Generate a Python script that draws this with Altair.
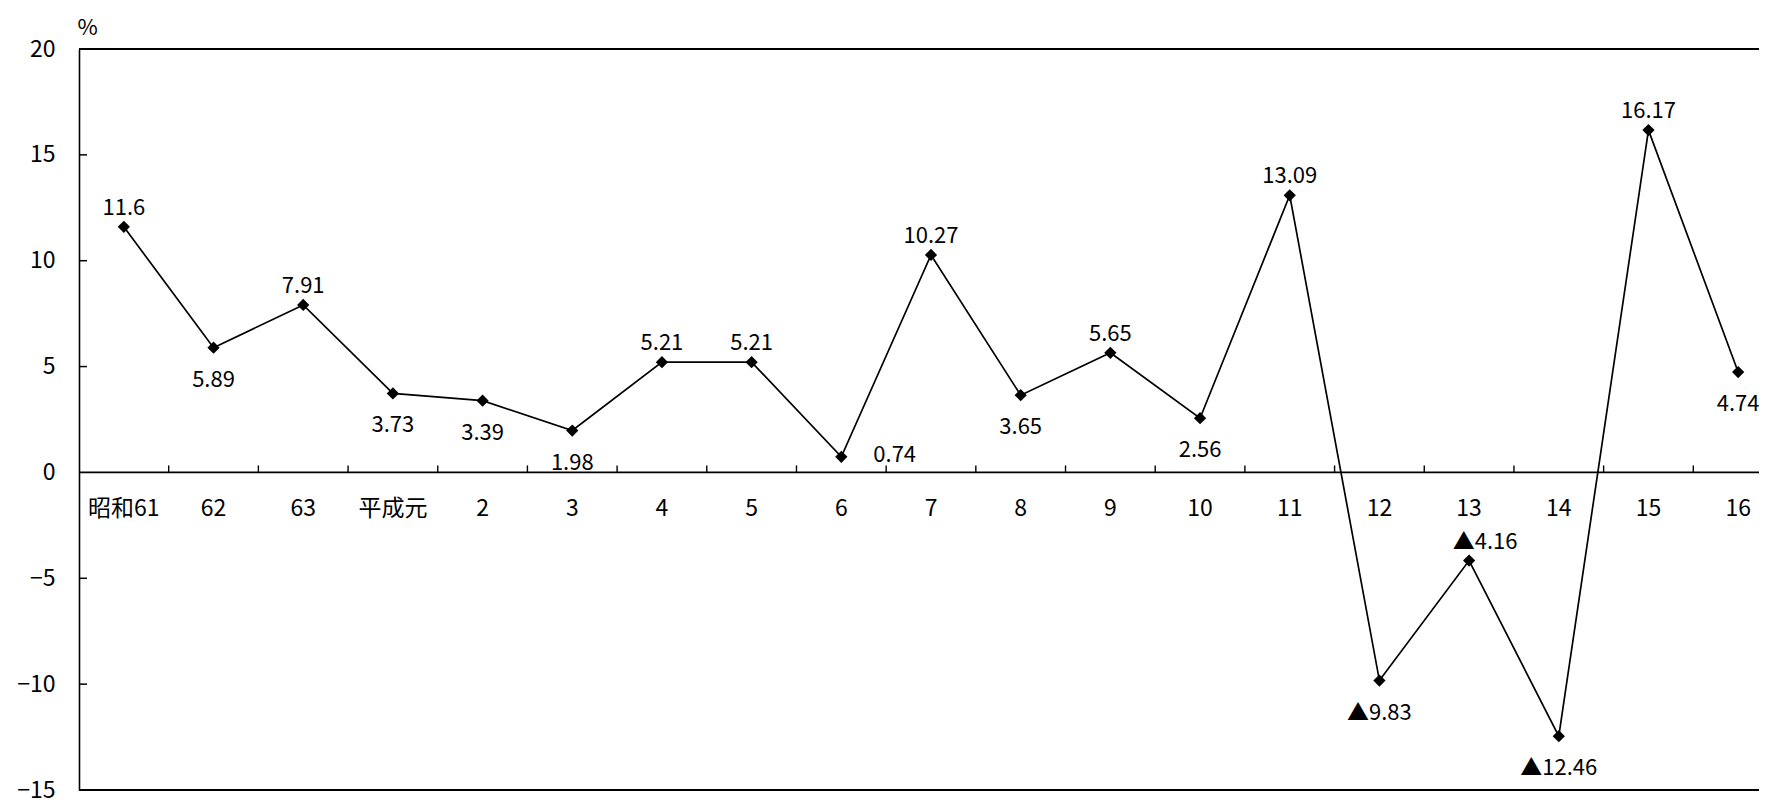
import altair as alt
import pandas as pd

categories = ["昭和61", "62", "63", "平成元", "2", "3", "4", "5", "6", "7",
              "8", "9", "10", "11", "12", "13", "14", "15", "16"]
values = [11.6, 5.89, 7.91, 3.73, 3.39, 1.98, 5.21, 5.21, 0.74, 10.27,
          3.65, 5.65, 2.56, 13.09, -9.83, -4.16, -12.46, 16.17, 4.74]
y_tick_values = [-15, -10, -5, 0, 5, 10, 15, 20]
inner_y_ticks = [-10, -5, 5, 10, 15]
frame_lines = [-15, 0, 20]

labels_above = ["昭和61", "63", "4", "5", "7", "9", "11", "15"]
labels_above_shift = ["13"]
labels_below = ["62", "平成元", "2", "3", "8", "10", "12", "14", "16"]
labels_right = ["6"]

FONT = "Noto Sans CJK JP"
W, H = 1680, 741
XR = 1704
PX_PER_UNIT = H / 35.0

df = pd.DataFrame({"cat": categories, "v": values})
df["label"] = [("▲" + format(-v, "g")) if v < 0 else format(v, "g") for v in values]

xscale = alt.Scale(type="band", domain=categories, range=[0, XR],
                   paddingInner=0, paddingOuter=0)
yscale = alt.Scale(domain=[-15, 20], nice=False, zero=False)
yaxis = alt.Axis(values=y_tick_values, ticks=False, tickSize=0, grid=False,
                 domain=True, domainColor="black", domainWidth=1.6,
                 labelFont=FONT, labelFontSize=23, labelColor="black",
                 labelPadding=24, title="%", titleAngle=0, titleX=8, titleY=-22,
                 titleAlign="center", titleBaseline="middle", titleFont=FONT,
                 titleFontSize=22, titleFontWeight="normal", titleColor="black")


def xenc(**kw):
    return alt.X("cat:N", scale=xscale, axis=None, **kw)


def yq(field):
    return alt.Y(field, scale=yscale, axis=yaxis)


def yd(val):
    return alt.Y(datum=val, scale=yscale, axis=yaxis)


base = alt.Chart(df)

frame = alt.Chart(pd.DataFrame({"f": frame_lines})).mark_rule(
    color="black", strokeWidth=1.8).encode(y=yq("f:Q"))

yticks = alt.Chart(pd.DataFrame({"t": inner_y_ticks})).mark_rule(
    color="black", strokeWidth=1.5).encode(
    y=yq("t:Q"), x=alt.value(0), x2=alt.value(8))

xticks = alt.Chart(pd.DataFrame({"cat": categories[1:]})).mark_rule(
    color="black", strokeWidth=1.4).encode(
    x=xenc(bandPosition=0), y=yd(0), y2=alt.Y2(datum=7 / PX_PER_UNIT))

xlabels = base.mark_text(dy=37, fontSize=23, font=FONT, color="black").encode(
    x=xenc(), y=yd(0), text="cat:N")

line = base.mark_line(color="black", strokeWidth=1.7).encode(x=xenc(), y=yq("v:Q"))

points = base.mark_point(shape="diamond", filled=True, color="black",
                         size=150, opacity=1).encode(x=xenc(), y=yq("v:Q"))


def label_layer(cats, **kw):
    return base.transform_filter(
        alt.FieldOneOfPredicate(field="cat", oneOf=cats)
    ).mark_text(fontSize=22, font=FONT, color="black", baseline="middle", **kw).encode(
        x=xenc(), y=yq("v:Q"), text="label:N")


lab_above = label_layer(labels_above, dy=-19)
lab_above_shift = label_layer(labels_above_shift, dy=-19, dx=16)
lab_below = label_layer(labels_below, dy=32)
lab_right = label_layer(labels_right, dy=-2, dx=32, align="left")

chart = alt.layer(
    frame, yticks, xticks, xlabels, line, points,
    lab_above, lab_above_shift, lab_below, lab_right
).properties(
    width=W, height=H,
    autosize=alt.AutoSizeParams(type="none"),
    padding={"left": 71, "top": 41, "right": 0, "bottom": 14},
    background="white",
).configure_view(strokeWidth=0)

chart.save("out.html", embed_options={"renderer": "svg", "actions": False})
